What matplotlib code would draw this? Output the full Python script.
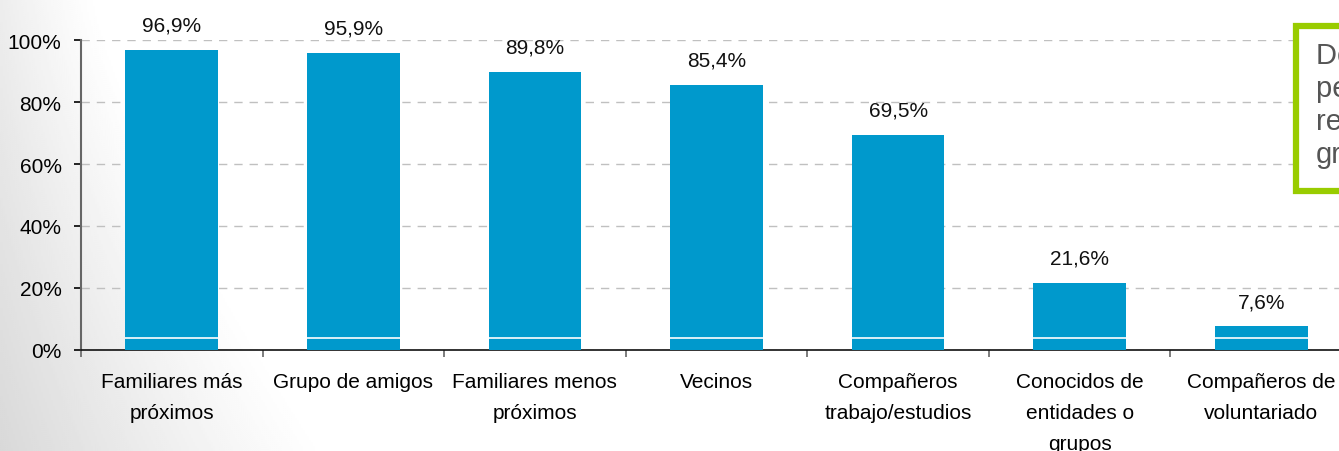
import numpy as np
import matplotlib
matplotlib.use("Agg")
import matplotlib.pyplot as plt
from matplotlib.patches import Rectangle

plt.rcParams['font.family'] = ['Liberation Sans', 'DejaVu Sans']

# data
categories = ['Familiares más\npróximos', 'Grupo de amigos', 'Familiares menos\npróximos',
              'Vecinos', 'Compañeros\ntrabajo/estudios', 'Conocidos de\nentidades o\ngrupos',
              'Compañeros de\nvoluntariado']
values = [96.9, 95.9, 89.8, 85.4, 69.5, 21.6, 7.6]
value_labels = ['96,9%', '95,9%', '89,8%', '85,4%', '69,5%', '21,6%', '7,6%']
yticks = [0, 20, 40, 60, 80, 100]
box_text = 'Del total de\npersonas que\nrelacionan con\ngrupos'

bar_color = '#0099CC'

fig = plt.figure(figsize=(13.39, 4.52), dpi=100)

# soft grey shading coming in from the lower left corner
bg = fig.add_axes([0, 0, 1, 1], zorder=-10)
xx, yy = np.meshgrid(np.linspace(0, 1339, 670), np.linspace(0, 452, 226))
reach = 100 + 230 * (yy / 452) ** 1.3
t = np.clip(1 - xx / reach, 0, 1)
shade = 1 - (0.07 + 0.08 * yy / 452) * t ** 1.2
bg.imshow(shade, cmap='gray', vmin=0, vmax=1, aspect='auto', extent=[0, 1, 0, 1], origin='upper')
bg.axis('off')

ax = fig.add_axes([81 / 1339, 101 / 452, 1271 / 1339, 310 / 452])
ax.set_facecolor('none')

x = np.arange(len(categories))
w = 0.51
ax.bar(x, values, width=w, color=bar_color, zorder=3)
ax.hlines([3.8] * len(x), x - w / 2, x + w / 2, color='white', lw=1.2, zorder=4)

for xi, v, lab in zip(x, values, value_labels):
    ax.annotate(lab, (xi, v), xytext=(0, 11), textcoords='offset points',
                ha='center', va='bottom', fontsize=15, color='#111111')

ax.set_xlim(-0.5, len(categories) - 0.5)
ax.set_ylim(0, 100)
ax.set_yticks(yticks)
ax.set_yticklabels([f'{t}%' for t in yticks], fontsize=15)
ax.yaxis.grid(True, color='#c0c0c0', linestyle=(0, (6, 5)), lw=1, zorder=0)

ax.set_xticks(x)
ax.set_xticklabels(categories, fontsize=15, linespacing=1.8, va='top')
ax.tick_params(axis='x', which='major', length=0, pad=16)
ax.set_xticks(np.arange(-0.5, len(categories), 1), minor=True)
ax.tick_params(axis='x', which='minor', length=5, width=1.2, color='#666666')
ax.tick_params(axis='y', length=5, width=1.2, pad=9)

for s in ['top', 'right']:
    ax.spines[s].set_visible(False)
ax.spines['left'].set_color('#666666')
ax.spines['left'].set_linewidth(1.5)
ax.spines['bottom'].set_color('#111111')
ax.spines['bottom'].set_linewidth(1.2)

# green framed note box at the right, partly outside the figure
fig.patches.append(Rectangle((1295.5 / 1339, (452 - 192) / 452), 200 / 1339, 165.5 / 452,
                             transform=fig.transFigure, fill=True, facecolor='white',
                             edgecolor='#99CC00', lw=4.5, zorder=5))
fig.text(1316 / 1339, (452 - 42) / 452, box_text, fontsize=21, color='#555555',
         ha='left', va='top', linespacing=1.22, zorder=6)

fig.savefig('out.png', dpi=100)
